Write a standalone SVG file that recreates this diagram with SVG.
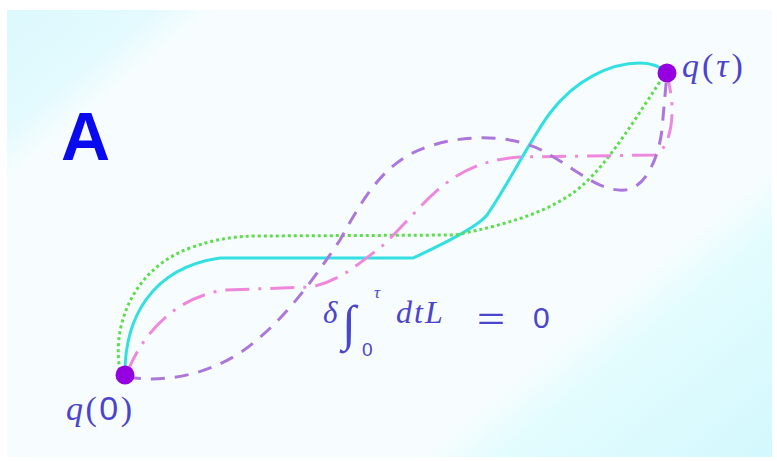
<svg xmlns="http://www.w3.org/2000/svg" width="777" height="461" viewBox="0 0 777 461">
<style>
.c{fill:none;stroke-width:3}
.t{fill:#4b44cc}
.it{font-family:"Liberation Serif","DejaVu Serif",serif;font-style:italic}
.rm{font-family:"Liberation Serif","DejaVu Serif",serif}
.ss{font-family:"Liberation Sans","DejaVu Sans",sans-serif}
.dot{fill:#9500e0}
</style>
<defs>
<linearGradient id="bg" gradientUnits="userSpaceOnUse" x1="0" y1="0" x2="538" y2="656">
<stop offset="0" stop-color="#dbf8fd"/>
<stop offset="0.12" stop-color="#e3fafe"/>
<stop offset="0.17" stop-color="#f7fdfe"/>
<stop offset="0.73" stop-color="#f7fdfe"/>
<stop offset="0.79" stop-color="#e3fcfe"/>
<stop offset="1" stop-color="#d2f8fd"/>
</linearGradient>
</defs>
<rect width="777" height="461" fill="#ffffff"/>
<rect x="7" y="10" width="765" height="447" fill="url(#bg)"/>
<g id="connectors">
<path class="c" stroke="#33dfe0" d="M125,373 C125,320 150,268 220,258 L413,258 C430,250 475,230 487,215 C505,190 530,140 550,113 C575,80 610,63 640,63 C655,63 662,68 667,73"/>
<path class="c" stroke="#5ddc4c" stroke-dasharray="3 3" d="M120,370 C112,330 130,270 190,248 C215,239 235,236 260,236 L455,235 C500,226 540,215 570,195 C600,175 625,135 663,77"/>
<path class="c" stroke="#ee88dd" stroke-dasharray="24 9 3 9" d="M127,373 C140,340 170,298 225,290 L310,287 C340,282 360,262 380,248 C400,230 420,205 440,188 C460,172 480,160 520,157 L655,155 C668,150 673,125 672,105 C671,90 668,80 667,73"/>
<path class="c" stroke="#ab77dd" stroke-dasharray="14 10" d="M127,377 C160,382 200,378 240,353 C280,325 310,285 340,240 C365,195 385,160 430,146 C470,133 520,135 550,155 C580,172 600,192 625,190 C645,188 658,160 662,130 C664,105 666,85 667,73"/>
</g>
<g id="label-A"><text x="61" y="160" font-family="Liberation Sans, Arial, sans-serif" font-weight="bold" font-size="68" fill="#0a0aee">A</text></g>
<g id="q0">
<circle class="dot" cx="125" cy="375" r="9.5"/>
<text class="t" x="66" y="420" style="font-size:34px" letter-spacing="2.5"><tspan class="it">q</tspan><tspan class="rm">(</tspan><tspan class="ss">0</tspan><tspan class="rm">)</tspan></text>
</g>
<g id="qtau">
<circle class="dot" cx="667" cy="73" r="9.5"/>
<text class="t" x="682" y="77" style="font-size:34px" letter-spacing="3"><tspan class="it">q</tspan><tspan class="rm">(</tspan><tspan class="it">τ</tspan><tspan class="rm">)</tspan></text>
</g>
<g id="formula">
<text class="t it" x="323" y="323" style="font-size:31px">δ</text>
<text class="t rm" x="342" y="340" style="font-size:50px">∫</text>
<text class="t ss" x="362" y="356" style="font-size:19px">0</text>
<text class="t it" x="374" y="298" style="font-size:17px">τ</text>
<text class="t it" x="396" y="323" style="font-size:32px" letter-spacing="2">dtL</text>
<text class="t ss" x="477" y="329" style="font-size:32px" textLength="28" lengthAdjust="spacingAndGlyphs">=</text>
<text class="t ss" x="533" y="328" style="font-size:30px">0</text>
</g>
</svg>
